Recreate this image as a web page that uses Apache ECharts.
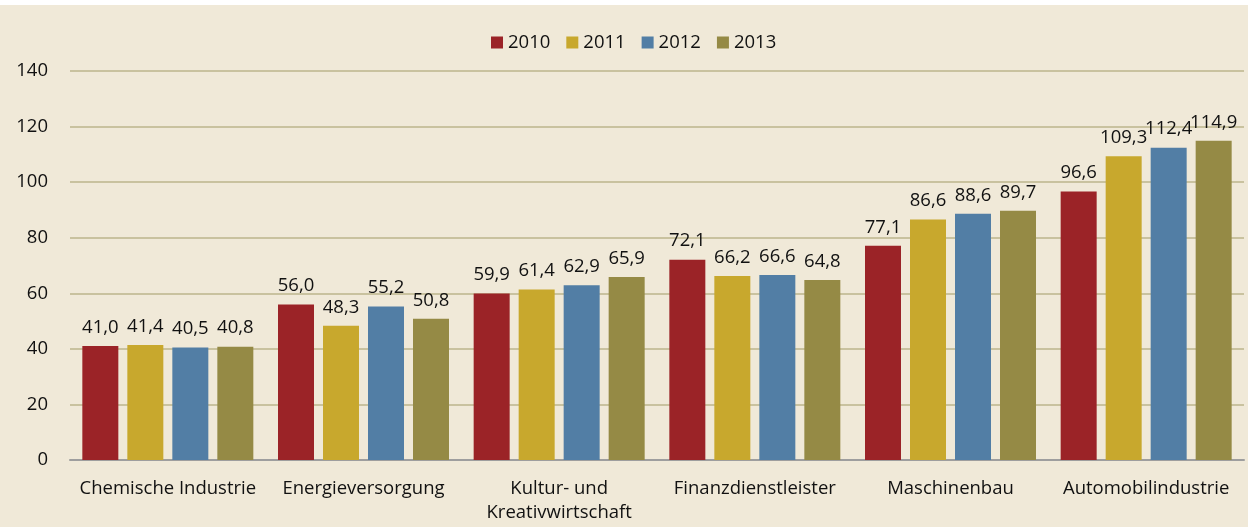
<!DOCTYPE html>
<html><head><meta charset="utf-8">
<script src="https://cdn.jsdelivr.net/npm/echarts@6/dist/echarts.min.js"></script>
<style>html,body{margin:0;padding:0;background:#fff}#c{width:1248px;height:527px}</style>
</head><body><div id="c"></div>
<script>
const categories = ['Chemische Industrie','Energieversorgung','Kultur- und\nKreativwirtschaft','Finanzdienstleister','Maschinenbau','Automobilindustrie'];
const years = ['2010','2011','2012','2013'];
const v2010 = [41.0, 56.0, 59.9, 72.1, 77.1, 96.6];
const v2011 = [41.4, 48.3, 61.4, 66.2, 86.6, 109.3];
const v2012 = [40.5, 55.2, 62.9, 66.6, 88.6, 112.4];
const v2013 = [40.8, 50.8, 65.9, 64.8, 89.7, 114.9];
const yTicks = [0,20,40,60,80,100,120,140];
const colors = ['#9B2327','#C8A82D','#527EA5','#958A45'];
const seriesData = [v2010, v2011, v2012, v2013];
const FONT = 'Open Sans';
const FS = 18.5;
const chart = echarts.init(document.getElementById('c'));
chart.setOption({
  backgroundColor: '#F0E9D8',
  animation: false,
  textStyle: {fontFamily: FONT},
  graphic: [{type:'rect', left:0, top:0, shape:{width:1248, height:5}, style:{fill:'#fff'}}],
  legend: {
    top: 28, left: 486, icon: 'rect', itemWidth: 12, itemHeight: 12, itemGap: 16, itemStyle: {borderWidth: 0},
    textStyle: {fontSize: FS, color: '#111', fontFamily: FONT}, data: years
  },
  grid: {left: 70, right: 4, top: 71, bottom: 67, containLabel: false},
  xAxis: {
    type: 'category', data: categories,
    axisLine: {lineStyle: {color: '#9E9E9E', width: 2}},
    axisTick: {show: false},
    axisLabel: {fontSize: FS, color: '#111', margin: 17, lineHeight: 24, interval: 0, fontFamily: FONT}
  },
  yAxis: {
    type: 'value', min: yTicks[0], max: yTicks[yTicks.length-1], interval: 20,
    axisLine: {show: false}, axisTick: {show: false},
    axisLabel: {fontSize: FS, color: '#111', margin: 22, fontFamily: FONT},
    splitLine: {lineStyle: {color: '#C9C29F', width: 2}}
  },
  series: seriesData.map((d, i) => ({
    name: years[i], type: 'bar', data: d, barWidth: 36, barGap: '25%',
    itemStyle: {color: colors[i]},
    label: {show: true, position: 'top', distance: 9, fontSize: FS, color: '#111', fontFamily: FONT,
      formatter: p => p.value.toFixed(1).replace('.', ',')}
  }))
});
</script></body></html>
